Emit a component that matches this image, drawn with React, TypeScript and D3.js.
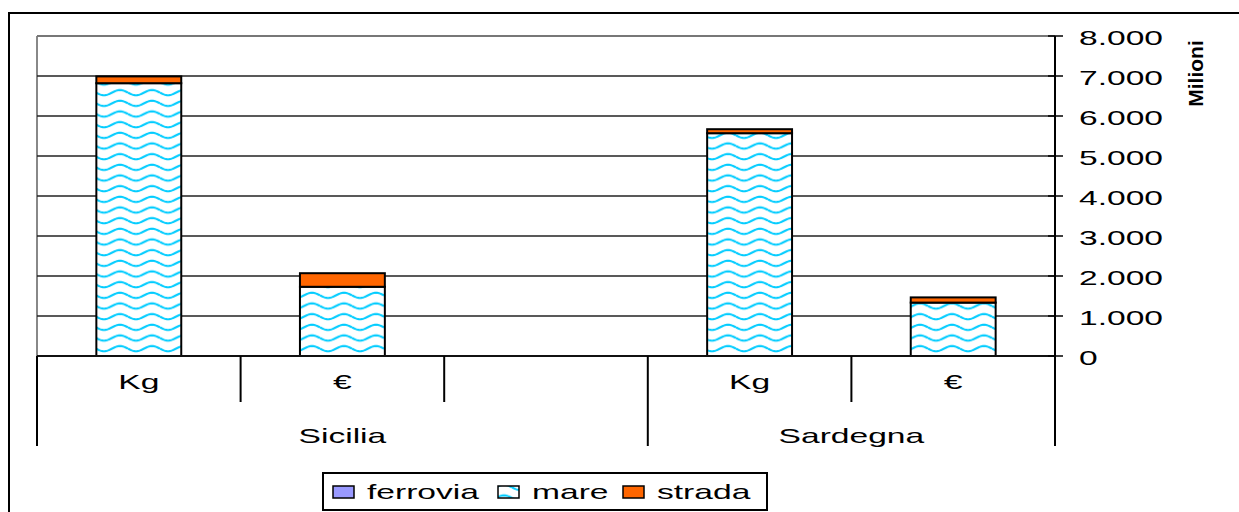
import React from "react";
import * as d3 from "d3";

const slots = ["Sicilia|Kg", "Sicilia|€", "Sicilia|", "Sardegna|Kg", "Sardegna|€"];
const slotLabels = ["Kg", "€", "", "Kg", "€"];
const groups = ["Sicilia", "Sardegna"];
const groupSpans = [[0, 3], [3, 5]];
const series = ["ferrovia", "mare", "strada"];
const ferrovia = [0, 0, null, 0, 0];
const mare = [6820, 1730, null, 5570, 1335];
const strada = [170, 340, null, 100, 130];
const yTicks = [0, 1000, 2000, 3000, 4000, 5000, 6000, 7000, 8000];
const colors: Record<string, string> = { ferrovia: "#9999FF", mare: "url(#wave)", strada: "#FF6600" };

const W = 1239, H = 512;
const left = 37, right = 1055, top = 36, bottom = 356;
const SX = 1.6;
const FONT = "'Liberation Sans', Arial, sans-serif";

const locale = d3.formatLocale({ decimal: ",", thousands: ".", grouping: [3], currency: ["€", ""] });
const fmt = locale.format(",d");

function STxt({ x, y, children, anchor = "middle", size = 21, weight = "normal" }: any) {
  return (
    <text transform={`translate(${x},${y}) scale(${SX},1)`} textAnchor={anchor}
      fontFamily={FONT} fontSize={size} fontWeight={weight} fill="#000">{children}</text>
  );
}

export default function App() {
  const x = d3.scaleBand<string>().domain(slots).range([left, right]).padding(0);
  const y = d3.scaleLinear().domain([0, 8000]).range([bottom, top]);
  const barW = x.bandwidth() * 0.417;

  const rows = slots.map((s, i) => ({ key: s, ferrovia: ferrovia[i], mare: mare[i], strada: strada[i] }));
  const valid = rows.filter(r => r.mare !== null);
  const stack = d3.stack<any>().keys(series).value((d, k) => d[k] ?? 0)(valid);

  let wavePath = "";
  const ph = 32 / 3;
  for (let k = -1; k <= 1; k++) {
    const pts: [number, number][] = [];
    for (let px = 0; px <= 32; px += 1) pts.push([px, ph / 2 + k * ph + 2.6 * Math.sin((2 * Math.PI * px) / 32)]);
    wavePath += d3.line()(pts);
  }

  const divTop = bottom;
  return (
    <svg width={W} height={H} style={{ position: "absolute", left: 0, top: 0 }}>
      <defs>
        <pattern id="wave" patternUnits="userSpaceOnUse" width={32} height={ph} x={0} y={2}>
          <rect width={32} height={ph} fill="#fff" />
          <path d={wavePath} stroke="#00CCFF" strokeWidth={2} fill="none" />
        </pattern>
      </defs>
      <rect x={0} y={0} width={W} height={H} fill="#fff" />
      {/* outer frame */}
      <rect x={9} y={13} width={W + 10} height={H + 10} fill="none" stroke="#000" strokeWidth={2} />
      {/* plot border */}
      <line x1={left} x2={left} y1={top} y2={bottom} stroke="#888" strokeWidth={2} />
      {/* gridlines */}
      {yTicks.map(t => (
        <line key={t} x1={left} x2={right} y1={y(t)} y2={y(t)} stroke={t === 8000 ? "#777" : "#222"} strokeWidth={t === 8000 ? 2 : 1.5} />
      ))}
      {/* bars */}
      {stack.map(layer => layer.map((d, i) => {
        const key = (d.data as any).key;
        const x0 = (x(key) as number) + x.bandwidth() / 2 - barW / 2;
        const h = y(d[0]) - y(d[1]);
        if (h <= 0) return null;
        return <rect key={layer.key + i} x={x0} y={y(d[1])} width={barW} height={h}
          fill={colors[layer.key]} stroke="#000" strokeWidth={2} />;
      }))}
      {/* category axis */}
      <line x1={left} x2={right} y1={bottom} y2={bottom} stroke="#111" strokeWidth={2} />
      <line x1={left} x2={left} y1={bottom} y2={446} stroke="#000" strokeWidth={2} />
      {slots.map((s, i) => {
        if (i === 0) return null;
        const xx = x(s) as number;
        const isGroup = groupSpans.some(g => g[0] === i);
        return <line key={s} x1={xx} x2={xx} y1={divTop} y2={isGroup ? 446 : 402} stroke="#000" strokeWidth={2} />;
      })}
      {slots.map((s, i) => slotLabels[i] ? (
        <STxt key={s} x={(x(s) as number) + x.bandwidth() / 2} y={389}>{slotLabels[i]}</STxt>
      ) : null)}
      {groups.map((g, gi) => {
        const [a, b] = groupSpans[gi];
        const cx = ((x(slots[a]) as number) + (x(slots[b - 1]) as number) + x.bandwidth()) / 2;
        return <STxt key={g} x={cx} y={443}>{g}</STxt>;
      })}
      {/* value axis */}
      <line x1={right} x2={right} y1={top} y2={446} stroke="#000" strokeWidth={2} />
      {yTicks.map(t => (
        <g key={t}>
          <line x1={right - 7} x2={right + 8} y1={y(t)} y2={y(t)} stroke="#000" strokeWidth={1.5} />
          <STxt x={1079} y={y(t) + 8.5} anchor="start">{fmt(t)}</STxt>
        </g>
      ))}
      <text transform="translate(1203,73.5) rotate(-90)" textAnchor="middle" fontFamily={FONT}
        fontSize={21} fontWeight="bold">Milioni</text>
      {/* legend */}
      <rect x={323} y={473} width={444} height={37} fill="#fff" stroke="#000" strokeWidth={2} />
      {series.map((s, i) => {
        const sx = [333, 498, 623][i];
        const tx = [367, 532, 657][i];
        return (
          <g key={s}>
            <rect x={sx} y={486} width={21} height={12} fill={colors[s]} stroke="#000" strokeWidth={1.5} />
            <STxt x={tx} y={499} anchor="start">{s}</STxt>
          </g>
        );
      })}
    </svg>
  );
}
